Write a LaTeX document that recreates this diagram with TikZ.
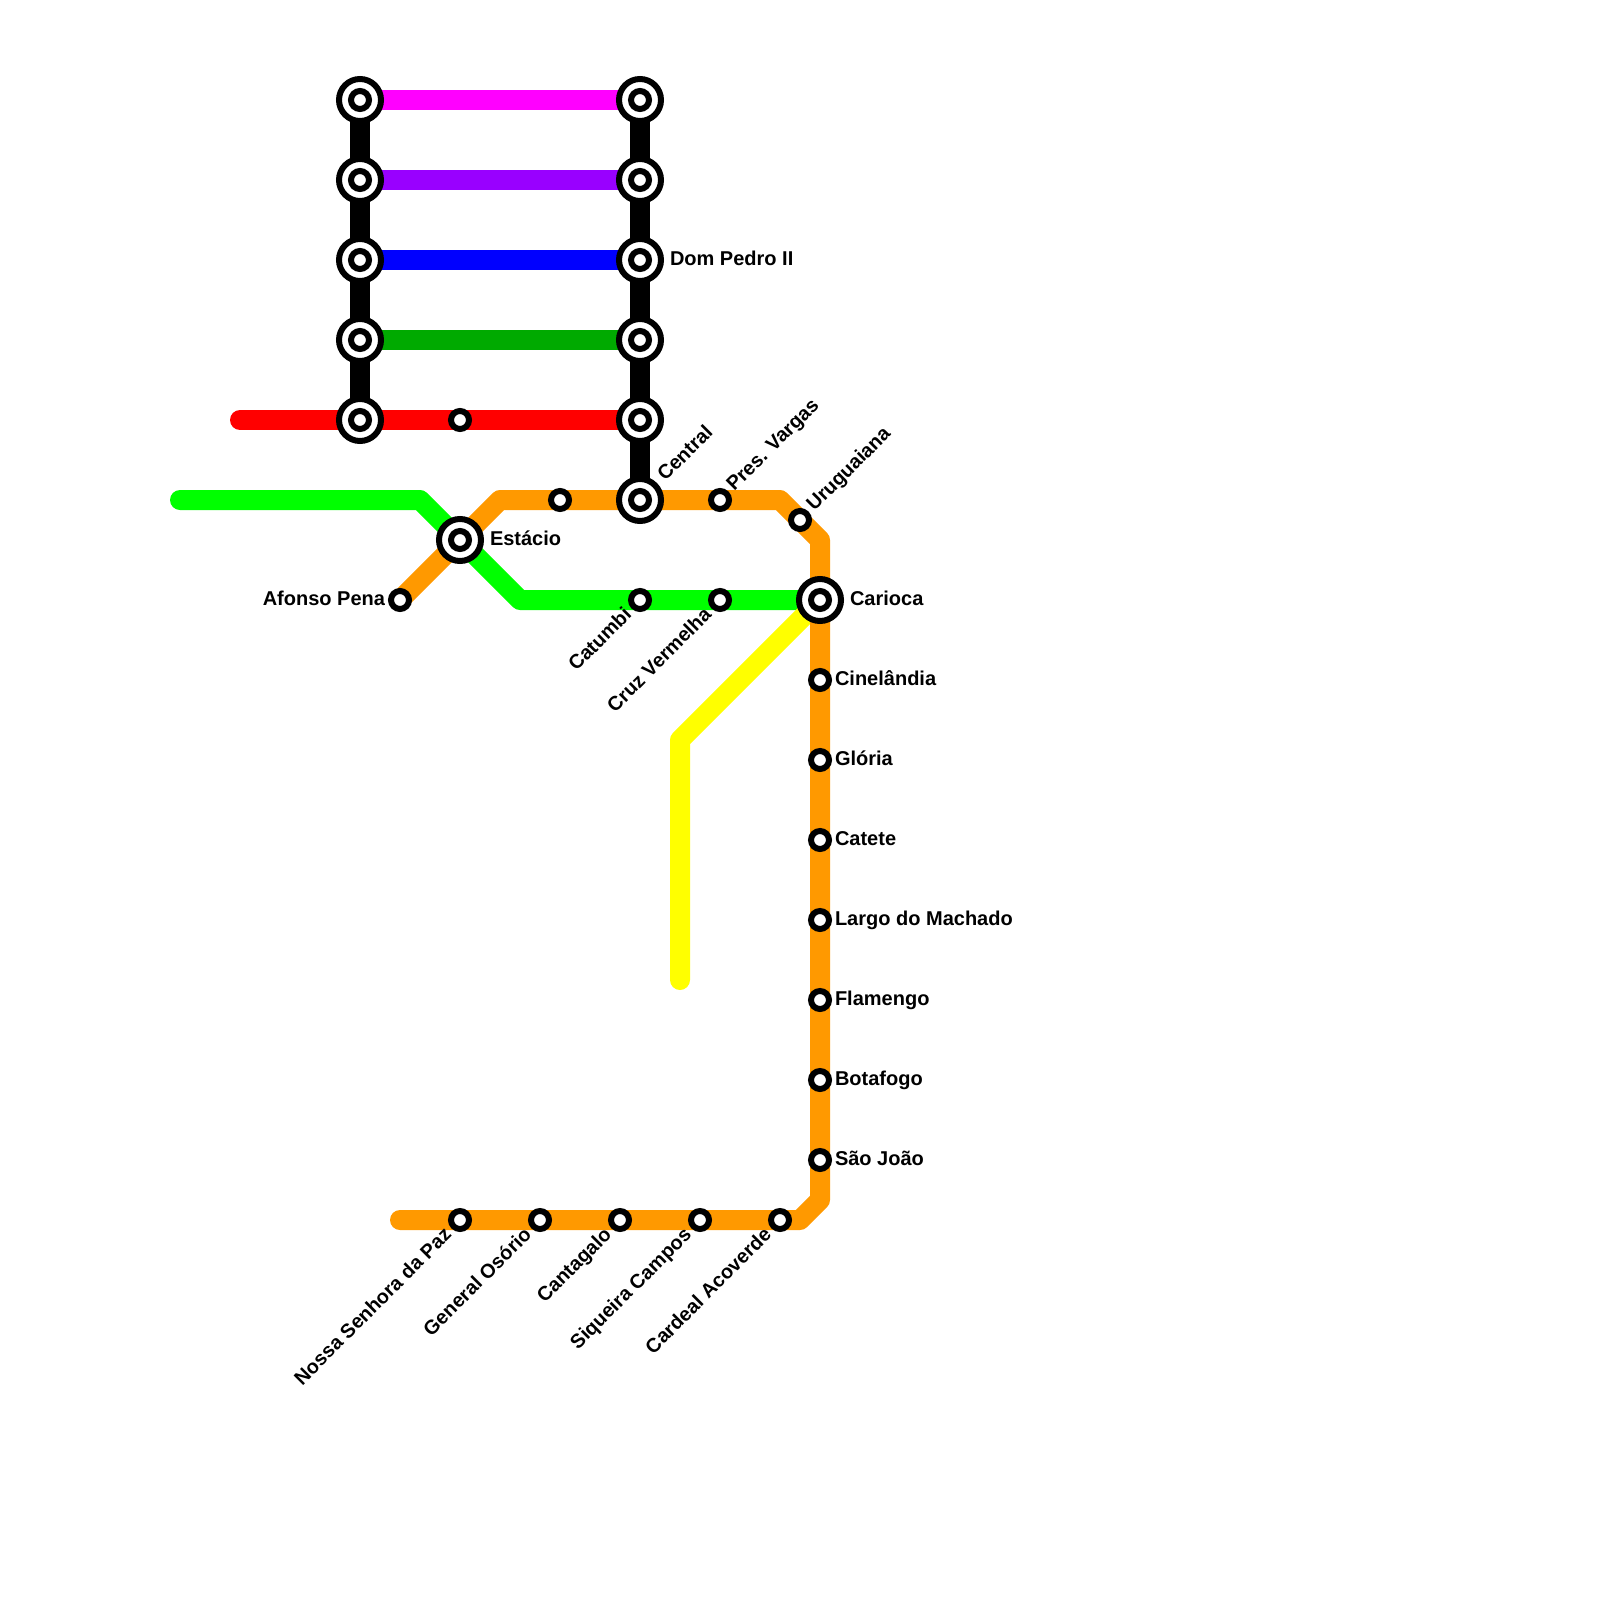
\documentclass[tikz,border=0pt]{standalone}
\usepackage{fontspec}
\setmainfont{Liberation Sans}[BoldFont={Liberation Sans Bold}]
\usetikzlibrary{backgrounds}
\definecolor{lnmag}{HTML}{FF00FF}
\definecolor{lnpur}{HTML}{9900FF}
\definecolor{lnblu}{HTML}{0000FF}
\definecolor{lngrn}{HTML}{00AA00}
\definecolor{lnred}{HTML}{FF0000}
\definecolor{lnlim}{HTML}{00FF00}
\definecolor{lnorg}{HTML}{FF9900}
\definecolor{lnyel}{HTML}{FFFF00}
\tikzset{
  x=1pt,y=-1pt,
  metro/.style={line width=20pt,line cap=round,line join=round},
  smallst/.style={circle,draw=black,fill=white,line width=6pt,inner sep=0pt,outer sep=0pt,minimum size=18pt},
  bigst/.style={circle,draw=black,fill=white,line width=6pt,inner sep=0pt,outer sep=0pt,minimum size=42pt,
    path picture={\draw[line width=6pt,fill=white] (path picture bounding box.center) circle (9pt);}},
  lab/.style={font=\fontsize{20}{22}\selectfont\bfseries,text=black,inner sep=0pt,outer sep=0pt,text height=14pt,text depth=0pt},
  labR/.style={lab,anchor=west},
  labL/.style={lab,anchor=east},
  labUp/.style={lab,font=\fontsize{19.8}{22}\selectfont\bfseries,anchor=west,rotate=45},
  labDn/.style={lab,font=\fontsize{19.8}{22}\selectfont\bfseries,anchor=east,rotate=45},
}
\begin{document}
\begin{tikzpicture}
\useasboundingbox (0,0) rectangle (1600,1600);
% interchange stations
\foreach \n/\yy in {a/100,b/180,c/260,d/340,e/420}{
  \node[bigst] (L\n) at (360,\yy) {};
}
\foreach \n/\yy in {a/100,b/180,c/260,d/340,e/420,f/500}{
  \node[bigst] (R\n) at (640,\yy) {};
}
\node[bigst] (estacio) at (460,540) {};
\node[bigst] (carioca) at (820,600) {};
% small stations
\node[smallst] (redmid) at (460,420) {};
\node[smallst] (orgmid) at (560,500) {};
\node[smallst] (pres) at (720,500) {};
\node[smallst] (urug) at (800,520) {};
\node[smallst] (catumbi) at (640,600) {};
\node[smallst] (cruz) at (720,600) {};
\node[smallst] (afonso) at (400,600) {};
\node[smallst] (cine) at (820,680) {};
\node[smallst] (gloria) at (820,760) {};
\node[smallst] (catete) at (820,840) {};
\node[smallst] (largo) at (820,920) {};
\node[smallst] (flamengo) at (820,1000) {};
\node[smallst] (botafogo) at (820,1080) {};
\node[smallst] (saojoao) at (820,1160) {};
\node[smallst] (nossa) at (460,1220) {};
\node[smallst] (general) at (540,1220) {};
\node[smallst] (cantagalo) at (620,1220) {};
\node[smallst] (siqueira) at (700,1220) {};
\node[smallst] (cardeal) at (780,1220) {};
% bends and line ends
\coordinate (redW) at (240,420);
\coordinate (limW) at (180,500);
\coordinate (limA) at (420,500);
\coordinate (limB) at (520,600);
\coordinate (orgA) at (500,500);
\coordinate (orgB) at (780,500);
\coordinate (orgC) at (820,540);
\coordinate (orgD) at (820,1200);
\coordinate (orgE) at (800,1220);
\coordinate (orgW) at (400,1220);
\coordinate (yelA) at (680,740);
\coordinate (yelS) at (680,980);
% lines
\begin{scope}[on background layer]
  \fill[white] (0,0) rectangle (1600,1600);
  \draw[metro,lnmag] (La.center) -- (Ra.center);
  \draw[metro,lnpur] (Lb.center) -- (Rb.center);
  \draw[metro,lnblu] (Lc.center) -- (Rc.center);
  \draw[metro,lngrn] (Ld.center) -- (Rd.center);
  \draw[metro,lnred] (redW) -- (Le.center) -- (redmid.center) -- (Re.center);
  \draw[metro,black] (La.center) -- (Lb.center) -- (Lc.center) -- (Ld.center) -- (Le.center);
  \draw[metro,black] (Ra.center) -- (Rb.center) -- (Rc.center) -- (Rd.center) -- (Re.center) -- (Rf.center);
  \draw[metro,lnlim] (limW) -- (limA) -- (estacio.center) -- (limB) -- (catumbi.center) -- (cruz.center) -- (carioca.center);
  \draw[metro,lnyel] (yelS) -- (yelA) -- (carioca.center);
  \draw[metro,lnorg] (afonso.center) -- (estacio.center) -- (orgA) -- (orgmid.center) -- (Rf.center) -- (pres.center) -- (orgB) -- (urug.center) -- (orgC) -- (carioca.center) -- (cine.center) -- (gloria.center) -- (catete.center) -- (largo.center) -- (flamengo.center) -- (botafogo.center) -- (saojoao.center) -- (orgD) -- (orgE) -- (cardeal.center) -- (siqueira.center) -- (cantagalo.center) -- (general.center) -- (nossa.center) -- (orgW);
\end{scope}
% labels
\node[labR] (tDom) at (670,258.5) {Dom Pedro II};
\node[labR] (tEst) at (490,538.5) {Estácio};
\node[labL] (tAfo) at (385,598.5) {Afonso Pena};
\node[labR] (tCar) at (850,598.5) {Carioca};
\node[labR] (tCin) at (835,678.5) {Cinelândia};
\node[labR] (tGlo) at (835,758.5) {Glória};
\node[labR] (tCat) at (835,838.5) {Catete};
\node[labR] (tLar) at (835,918.5) {Largo do Machado};
\node[labR] (tFla) at (835,998.5) {Flamengo};
\node[labR] (tBot) at (835,1078.5) {Botafogo};
\node[labR] (tSao) at (835,1158.5) {São João};
\node[labUp] (tCen) at (660.5,477) {Central};
\node[labUp] (tPre) at (729.5,487) {Pres. Vargas};
\node[labUp] (tUru) at (809.5,507) {Uruguaiana};
\node[labDn] (tCtb) at (627.5,611) {Catumbi};
\node[labDn] (tCrz) at (707.5,611) {Cruz Vermelha};
\node[labDn] (tNos) at (447.5,1231) {Nossa Senhora da Paz};
\node[labDn] (tGen) at (527.5,1231) {General Osório};
\node[labDn] (tCnt) at (607.5,1231) {Cantagalo};
\node[labDn] (tSiq) at (687.5,1231) {Siqueira Campos};
\node[labDn] (tCrd) at (767.5,1231) {Cardeal Acoverde};
\end{tikzpicture}
\end{document}
